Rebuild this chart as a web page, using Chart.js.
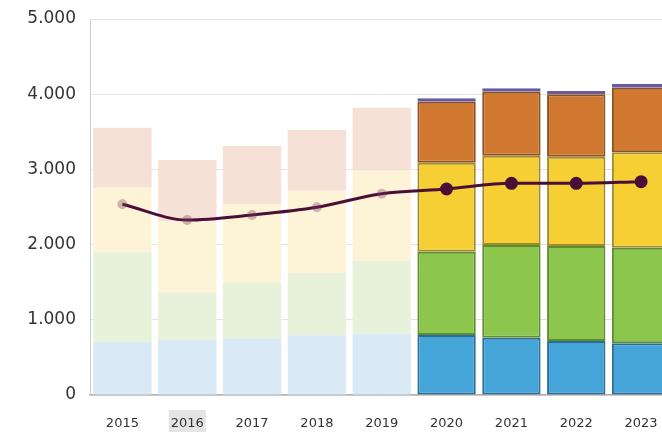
<!DOCTYPE html>
<html lang="pt-br">

<head>
  <meta charset="UTF-8">
  <title>Gráfico</title>
  <script src="https://cdn.jsdelivr.net/npm/chart.js"></script>
  <style>
    body { margin: 0; overflow: hidden; background: #fff; }
    .grafico { width: 680px; height: 432px; }
  </style>
</head>

<body>

  <div class="grafico">
    <canvas id="dash-anos"></canvas>
  </div>

</body>

</html>

<script>

  const anos = ['2015', '2016', '2017', '2018', '2019', '2020', '2021', '2022', '2023'];

  // segmentos das barras (de baixo para cima)
  const azul = [705, 731, 754, 794, 815, 798, 762, 718, 687];
  const verde = [1193, 635, 745, 828, 971, 1108, 1233, 1263, 1272];
  const amarelo = [859, 944, 1037, 1095, 1197, 1183, 1187, 1188, 1268];
  const laranja = [798, 815, 775, 807, 837, 811, 852, 829, 860];
  const roxo = [null, null, null, null, null, 45, 44, 45, 49];

  // linha
  const media = [2536, 2327, 2394, 2496, 2677, 2739, 2815, 2815, 2837];

  const ticksY = [0, 1000, 2000, 3000, 4000, 5000];

  // primeiros 5 anos ficam apagados
  const apagado = (i) => i < 5;

  function cores(fraca, forte) {
    return anos.map((a, i) => apagado(i) ? fraca : forte);
  }

  function barra(label, data, fraca, forte, borda) {
    return {
      type: 'bar',
      label: label,
      data: data,
      stack: 'barras',
      order: 1,
      backgroundColor: cores(fraca, forte),
      borderColor: cores('rgba(0,0,0,0)', borda),
      borderWidth: anos.map((a, i) => apagado(i) ? 0 : 2),
      borderSkipped: false,
      barPercentage: 0.9,
      categoryPercentage: 1
    };
  }

  const milhar = (v) => String(v).replace(/\B(?=(\d{3})+(?!\d))/g, '.');

  const ctx = document.getElementById('dash-anos');

  new Chart(ctx, {
    data: {
      labels: anos,
      datasets: [
        {
          type: 'line',
          label: 'Média',
          data: media,
          stack: 'linha',
          order: 0,
          borderColor: '#4b0f37',
          borderWidth: 3,
          cubicInterpolationMode: 'monotone',
          pointRadius: anos.map((a, i) => apagado(i) ? 5 : 6.5),
          pointBackgroundColor: cores('rgba(120,60,95,0.35)', '#4b0f37'),
          pointBorderWidth: 0
        },
        barra('Azul', azul, '#d9eaf6', '#45a4d8', '#2a6d98'),
        barra('Verde', verde, '#e8f2db', '#8dc64c', '#5e8c2f'),
        barra('Amarelo', amarelo, '#fdf3d6', '#f5cf33', '#a08a2e'),
        barra('Laranja', laranja, '#f6e1d6', '#d0782f', '#8c4f22'),
        barra('Roxo', roxo, '#ece8f3', '#7a6aab', '#6a5a9b')
      ]
    },
    options: {
      responsive: true,
      maintainAspectRatio: false,
      animation: false,
      layout: {
        padding: { top: 19, right: 5, left: 0, bottom: 0 }
      },
      plugins: {
        legend: { display: false },
        tooltip: { enabled: false }
      },
      scales: {
        x: {
          stacked: true,
          grid: { display: false, drawTicks: false },
          border: { display: true, color: '#b0b0b0', width: 1.5 },
          ticks: {
            color: '#333',
            font: { family: 'DejaVu Sans', size: 13 },
            padding: 21,
            showLabelBackdrop: true,
            backdropColor: (c) => c.index === 1 ? '#e4e4e4' : 'rgba(0,0,0,0)',
            backdropPadding: { top: 6, bottom: 10, left: 2, right: 2 }
          },
          afterFit: (scale) => { scale.height = 37; }
        },
        y: {
          stacked: true,
          min: 0,
          max: 5000,
          grid: { color: '#e3e3e3', lineWidth: 1, drawTicks: false },
          border: { display: true, color: '#cfcfcf' },
          afterBuildTicks: (scale) => { scale.ticks = ticksY.map(v => ({ value: v })); },
          ticks: {
            color: '#333',
            font: { family: 'DejaVu Sans', size: 17 },
            padding: 14,
            callback: (v) => milhar(v)
          },
          afterFit: (scale) => {
            scale.width = 90;
            scale.paddingTop = 0;
            scale.paddingBottom = 0;
          }
        }
      }
    }
  });

</script>
